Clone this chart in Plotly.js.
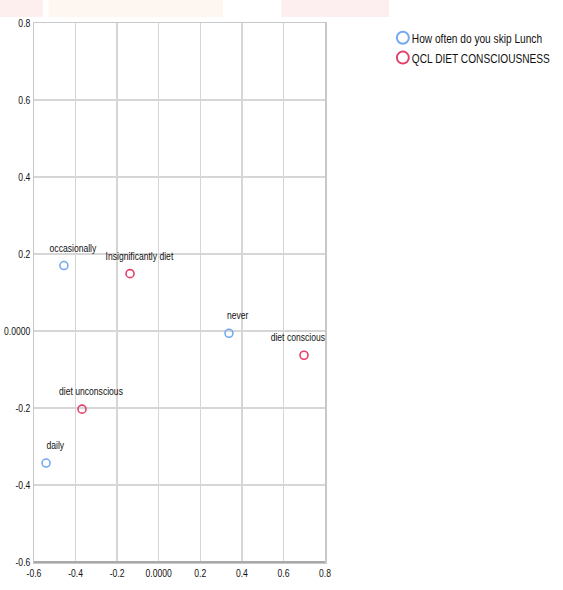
<!DOCTYPE html>
<html>
<head>
<meta charset="utf-8">
<script src="https://cdn.plot.ly/plotly-3.0.1.min.js"></script>
<style>
html,body{margin:0;padding:0;background:#fff;}
#chart{width:563px;height:590px;}
</style>
</head>
<body>
<div id="chart"></div>
<script>
// Category labels and coordinates
const lunchLabels = ["occasionally", "never", "daily"];
const lunchX = [-0.456, 0.338, -0.542];
const lunchY = [0.170, -0.006, -0.343];

const dietLabels = ["Insignificantly diet", "diet conscious", "diet unconscious"];
const dietX = [-0.138, 0.699, -0.369];
const dietY = [0.149, -0.063, -0.203];

const seriesNames = ["How often do you skip Lunch", "QCL DIET CONSCIOUSNESS"];

const tickVals = [-0.6, -0.4, -0.2, 0, 0.2, 0.4, 0.6, 0.8];
const xTickText = ["-0.6", "-0.4", "-0.2", "0.0000", "0.2", "0.4", "0.6", "0.8"];
const yTickText = ["-0.6", "-0.4", "-0.2", "0.0000", "0.2", "0.4", "0.6", "0.8"];

const FONT = '"Liberation Sans", Arial, sans-serif';
const BLUE = '#74a9f0';
const RED = '#e2416b';

function trace(name, xs, ys, color) {
  return {
    type: 'scatter', mode: 'markers', name: name, x: xs, y: ys,
    marker: {symbol: 'circle-open', size: 8, color: color, line: {width: 1.6, color: color}},
    hoverinfo: 'skip', cliponaxis: false
  };
}

const data = [
  trace(seriesNames[0], lunchX, lunchY, BLUE),
  trace(seriesNames[1], dietX, dietY, RED)
];

const annotations = [];
function addLabels(labels, xs, ys) {
  labels.forEach((t, i) => {
    // labels near the right edge are pulled left so they stay inside the plot
    const nearRight = xs[i] > 0.6;
    annotations.push({
      x: xs[i], y: ys[i], xref: 'x', yref: 'y',
      text: t, showarrow: false,
      xanchor: 'center', yanchor: 'bottom',
      xshift: nearRight ? -6 : 9, yshift: 10,
      font: {family: FONT, size: 11, color: '#111'}
    });
  });
}
addLabels(lunchLabels, lunchX, lunchY);
addLabels(dietLabels, dietX, dietY);

// faint decorative band at the top of the image + darker bottom axis
const shapes = [
  {type: 'rect', xref: 'paper', yref: 'paper', x0: -0.12, x1: 0.03, y0: 1.011, y1: 1.043, fillcolor: 'rgba(245,175,170,0.2)', line: {width: 0}, layer: 'below'},
  {type: 'rect', xref: 'paper', yref: 'paper', x0: 0.05, x1: 0.65, y0: 1.011, y1: 1.043, fillcolor: 'rgba(250,205,170,0.16)', line: {width: 0}, layer: 'below'},
  {type: 'rect', xref: 'paper', yref: 'paper', x0: 0.85, x1: 1.22, y0: 1.011, y1: 1.043, fillcolor: 'rgba(245,175,180,0.2)', line: {width: 0}, layer: 'below'},
  {type: 'line', xref: 'paper', yref: 'paper', x0: 0, x1: 1, y0: 0, y1: 0, line: {color: '#a9a9a9', width: 2}, layer: 'above'}
];

const axisCommon = {
  range: [-0.6, 0.8], tickvals: tickVals, showgrid: true, gridcolor: '#d6d6d6', gridwidth: 1.5,
  zeroline: false, ticks: '', tickfont: {family: FONT, size: 11, color: '#111'},
  showline: true, mirror: true, linecolor: '#c8c8c8', linewidth: 1.5, fixedrange: true,
  automargin: false
};

const layout = {
  width: 563, height: 590,
  margin: {l: 34, r: 238, t: 23, b: 28, pad: 0, autoexpand: false},
  paper_bgcolor: '#fff', plot_bgcolor: '#fff',
  font: {family: FONT, size: 11, color: '#111'},
  xaxis: Object.assign({}, axisCommon, {ticktext: xTickText}),
  yaxis: Object.assign({}, axisCommon, {ticktext: yTickText, gridwidth: 2}),
  showlegend: true,
  legend: {
    xref: 'container', yref: 'container',
    x: 0.680, y: 0.9614, xanchor: 'left', yanchor: 'top',
    font: {family: FONT, size: 13, color: '#111'},
    itemsizing: 'constant', itemwidth: 30, tracegroupgap: 0, bgcolor: 'rgba(0,0,0,0)'
  },
  annotations: annotations,
  shapes: shapes
};

// emulate the narrow (Arial Narrow-like) face of the reference by compressing glyphs
function condense(root, factor) {
  root.querySelectorAll('text').forEach(t => {
    const L = t.getComputedTextLength();
    if (L > 0) {
      t.setAttribute('textLength', (L * factor).toFixed(2));
      t.setAttribute('lengthAdjust', 'spacingAndGlyphs');
    }
  });
}

Plotly.newPlot('chart', data, layout, {displayModeBar: false, staticPlot: true}).then(gd => {
  condense(gd, 0.78);
  gd.querySelectorAll('.legend .legendtext').forEach(t => {
    const x = parseFloat(t.getAttribute('x') || '0');
    t.setAttribute('x', (x - 11).toString());
  });
});
</script>
</body>
</html>
